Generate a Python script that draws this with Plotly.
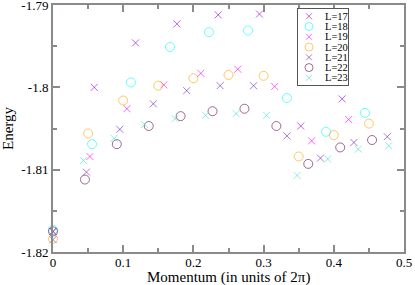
import plotly.graph_objects as go

# ---- data ----
labels = ["L=17", "L=18", "L=19", "L=20", "L=21", "L=22", "L=23"]

k17 = [0, 0.0588, 0.1176, 0.1765, 0.2353, 0.2941, 0.3529, 0.4118]
e17 = [-1.8175, -1.8000, -1.7946, -1.7923, -1.7912, -1.7911, -1.8047, -1.8014]

k18 = [0, 0.0556, 0.1111, 0.1667, 0.2222, 0.2778, 0.3333, 0.3889, 0.4444]
e18 = [-1.8173, -1.8069, -1.7994, -1.7951, -1.7933, -1.7931, -1.8013, -1.8054, -1.8031]

k19 = [0, 0.0526, 0.1053, 0.1579, 0.2105, 0.2632, 0.3158, 0.3684, 0.4211]
e19 = [-1.8185, -1.8084, -1.8026, -1.7997, -1.7983, -1.7978, -1.7999, -1.8065, -1.8039]

k20 = [0, 0.05, 0.1, 0.15, 0.2, 0.25, 0.3, 0.35, 0.4, 0.45]
e20 = [-1.8184, -1.8056, -1.8016, -1.7998, -1.7989, -1.7985, -1.7986, -1.8084, -1.8058, -1.8044]

k21 = [0, 0.0476, 0.0952, 0.1429, 0.1905, 0.2381, 0.2857, 0.3333, 0.3810, 0.4286, 0.4762]
e21 = [-1.8175, -1.8103, -1.8051, -1.8020, -1.8004, -1.7998, -1.7998, -1.8059, -1.8086, -1.8067, -1.8060]

k22 = [0, 0.0455, 0.0909, 0.1364, 0.1818, 0.2273, 0.2727, 0.3182, 0.3636, 0.4091, 0.4545]
e22 = [-1.8175, -1.8112, -1.8069, -1.8047, -1.8035, -1.8029, -1.8026, -1.8047, -1.8093, -1.8073, -1.8064]

k23 = [0, 0.0435, 0.0870, 0.1304, 0.1739, 0.2174, 0.2609, 0.3043, 0.3478, 0.3913, 0.4348, 0.4783]
e23 = [-1.8185, -1.8089, -1.8062, -1.8045, -1.8038, -1.8034, -1.8032, -1.8034, -1.8107, -1.8087, -1.8075, -1.8071]

x_tickvals = [0, 0.1, 0.2, 0.3, 0.4, 0.5]
x_ticktext = ["0", "0.1", "0.2", "0.3", "0.4", "0.5"]
x_minor = [0.05, 0.15, 0.25, 0.35, 0.45]
y_tickvals = [-1.82, -1.81, -1.80, -1.79]
y_ticktext = ["-1.82", "-1.81", "-1.8", "-1.79"]
y_minor = [-1.815, -1.805, -1.795]
x_title = "Momentum (in units of 2π)"
y_title = "Energy"

# ---- styles ----
colors = ["#9400d3", "#00ffff", "#ff00ff", "#ffa500", "#7221bc", "#670748", "#40e0d0"]
symbols = ["x-thin-open", "circle-open", "x-thin-open", "circle-open",
           "x-thin-open", "circle-open", "x-thin-open"]
sizes = [7, 9, 7, 9, 7, 9, 7]
FONT = "Liberation Serif"
AX = "#8a8a8a"

ks = [k17, k18, k19, k20, k21, k22, k23]
es = [e17, e18, e19, e20, e21, e22, e23]

fig = go.Figure()
for lab, k, e, c, s, sz in zip(labels, ks, es, colors, symbols, sizes):
    fig.add_trace(go.Scatter(
        x=k, y=e, mode="markers", name=lab, showlegend=False,
        marker=dict(symbol=s, size=sz, color=c, opacity=0.6,
                    line=dict(color=c, width=1)),
        cliponaxis=False,
    ))

# compact legend drawn on an auxiliary axis pair
leg_idx = list(range(len(labels)))
for i, (lab, c, s, sz) in enumerate(zip(labels, colors, symbols, sizes)):
    fig.add_trace(go.Scatter(
        x=[11], y=[leg_idx[i]], mode="markers", showlegend=False,
        xaxis="x2", yaxis="y2", hoverinfo="skip",
        marker=dict(symbol=s, size=sz - 1, color=c, opacity=0.6,
                    line=dict(color=c, width=1)),
    ))
    fig.add_annotation(x=25, y=leg_idx[i], xref="x2", yref="y2", text=lab,
                       showarrow=False, xanchor="left", yanchor="middle",
                       font=dict(family=FONT, size=10.5, color="black"))

W, H = 415, 285
ml, mr, mt, mb = 53, 11, 5, 33
pw, ph = W - ml - mr, H - mt - mb

def px2paper_x(px):
    return (px - ml) / pw

def px2paper_y(py):
    return (H - mb - py) / ph

# x-axis title as a paper annotation (placed below the tick labels)
fig.add_annotation(x=0.5, y=px2paper_y(277.5), xref="paper", yref="paper", text=x_title,
                   showarrow=False, xanchor="center", yanchor="middle",
                   font=dict(family=FONT, size=15, color="black"))

fig.update_layout(
    width=W, height=H,
    margin=dict(l=ml, r=mr, t=mt, b=mb, autoexpand=False),
    paper_bgcolor="white", plot_bgcolor="white",
    showlegend=False,
    font=dict(family=FONT, color="black"),
    xaxis=dict(
        range=[0, 0.5], tickmode="array", tickvals=x_tickvals, ticktext=x_ticktext,
        ticks="inside", ticklen=7, tickwidth=1.5, tickcolor=AX,
        showline=True, linecolor=AX, linewidth=2, mirror="allticks",
        showgrid=False, zeroline=False, ticklabelstandoff=-3, ticklabeloverflow="allow",
        tickfont=dict(family=FONT, size=13, color="black"),
        minor=dict(tickmode="array", tickvals=x_minor, ticks="inside", ticklen=4,
                   tickwidth=1.5, tickcolor=AX, showgrid=False),
        automargin=False,
    ),
    yaxis=dict(
        range=[-1.8200002, -1.7899998], tickmode="array", tickvals=y_tickvals, ticktext=y_ticktext,
        ticks="inside", ticklen=7, tickwidth=1.5, tickcolor=AX,
        showline=True, linecolor=AX, linewidth=2, mirror="allticks",
        showgrid=False, zeroline=False, ticklabeloverflow="allow",
        tickfont=dict(family=FONT, size=13, color="black"),
        minor=dict(tickmode="array", tickvals=y_minor, ticks="inside", ticklen=4,
                   tickwidth=1.5, tickcolor=AX, showgrid=False),
        title=dict(text=y_title, font=dict(family=FONT, size=15, color="black"), standoff=6),
        automargin=False,
    ),
    xaxis2=dict(
        domain=[px2paper_x(298), px2paper_x(348)], range=[0, 50], anchor="y2",
        showline=True, linecolor="#555", linewidth=1, mirror=True,
        showticklabels=False, ticks="", showgrid=False, zeroline=False, fixedrange=True,
    ),
    yaxis2=dict(
        domain=[px2paper_y(85), px2paper_y(9)], range=[6.7, -0.71], anchor="x2",
        showline=True, linecolor="#555", linewidth=1, mirror=True,
        showticklabels=False, ticks="", showgrid=False, zeroline=False, fixedrange=True,
    ),
)

fig.write_html("out.html", config={"displayModeBar": False},
               post_script="document.body.style.margin='0px';document.body.style.overflow='hidden';")
